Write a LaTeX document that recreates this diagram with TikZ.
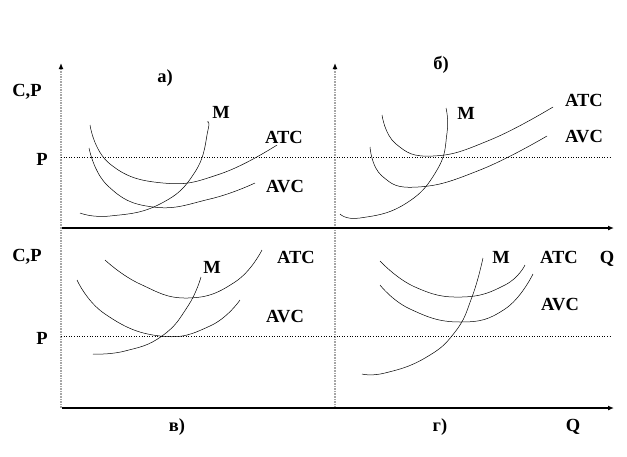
\documentclass[tikz,border=0pt]{standalone}
\usepackage{fontspec}
\setmainfont{Liberation Serif}
\usetikzlibrary{arrows.meta}

\begin{document}
\begin{tikzpicture}[x=1pt,y=-1pt,
lbl/.style={font=\fontsize{18.5}{20}\selectfont\bfseries,inner sep=0pt},
curve/.style={line width=0.5pt},
haxis/.style={line width=1.2pt,-{Latex[length=6pt,width=5pt]}},
vaxis/.style={line width=1.6pt,gray!70,densely dotted,-{Latex[length=6pt,width=5pt,color=black]}},
pline/.style={dotted,line width=0.6pt}]
\useasboundingbox (0,0) rectangle (627,456);

% axes
\coordinate (o1) at (61,408);
\coordinate (t1) at (61,63);
\coordinate (o2) at (335,408);
\coordinate (t2) at (335,63);
\coordinate (m0) at (62,228);
\coordinate (m1) at (614,228);
\coordinate (b0) at (62,408);
\coordinate (b1) at (614,408);
\coordinate (pa0) at (61,157);
\coordinate (pa1) at (612,157);
\coordinate (pb0) at (61,336);
\coordinate (pb1) at (612,336);

\draw[vaxis] (o1) -- (t1);
\draw[vaxis] (o2) -- (t2);
\draw[haxis] (m0) -- (m1);
\draw[haxis] (b0) -- (b1);
\draw[pline] (pa0) -- (pa1);
\draw[pline] (pb0) -- (pb1);

% a)
\draw[curve] plot[smooth,tension=0.8] coordinates {(90,125) (110,164) (163,183) (220,174) (277,145)};
\draw[curve] plot[smooth,tension=0.8] coordinates {(89,148) (108,186) (153,207) (210,199) (255,183)};
\draw[curve] plot[smooth,tension=0.8] coordinates {(80,213) (110,216) (160,204) (195,172) (208,130) (207,122)};

% b)
\draw[curve] plot[smooth,tension=0.8] coordinates {(382,115) (396,144) (433,156) (490,140) (553,107)};
\draw[curve] plot[smooth,tension=0.8] coordinates {(370,147) (382,176) (418,187) (480,170) (547,136)};
\draw[curve] plot[smooth,tension=0.8] coordinates {(340,214) (360,218) (405,204) (437,170) (447,133) (446,108)};

% c)
\draw[curve] plot[smooth,tension=0.8] coordinates {(105,260) (140,284) (188,298) (235,282) (262,250)};
\draw[curve] plot[smooth,tension=0.8] coordinates {(77,280) (105,314) (160,336) (210,326) (240,300)};
\draw[curve] plot[smooth,tension=0.8] coordinates {(93,354) (125,351) (162,336) (188,306) (201,277)};

% d)
\draw[curve] plot[smooth,tension=0.8] coordinates {(380,261) (415,287) (462,297) (505,285) (525,265)};
\draw[curve] plot[smooth,tension=0.8] coordinates {(380,285) (410,309) (460,322) (505,309) (533,274)};
\draw[curve] plot[smooth,tension=0.8] coordinates {(362,374) (385,373) (425,358) (455,332) (472,297) (483,258)};

% labels
\node[lbl] (cpa) at (27,92) {C,P};
\node[lbl] (pa) at (42,159) {P};
\node[lbl] (ta) at (165,78) {а)};
\node[lbl] (ma) at (221,112) {M};
\node[lbl] (atca) at (284,137) {ATC};
\node[lbl] (avca) at (285,187) {AVC};

\node[lbl] (tb) at (441,65) {б)};
\node[lbl] (mb) at (466,113) {M};
\node[lbl] (atcb) at (584,100) {ATC};
\node[lbl] (avcb) at (584,137) {AVC};

\node[lbl] (cpc) at (27,257) {C,P};
\node[lbl] (pc) at (42,338) {P};
\node[lbl] (mc) at (212,267) {M};
\node[lbl] (atcc) at (296,257) {ATC};
\node[lbl] (avcc) at (285,317) {AVC};
\node[lbl] (tc) at (177,427) {в)};

\node[lbl] (md) at (501,257) {M};
\node[lbl] (atcd) at (559,257) {ATC};
\node[lbl] (qd) at (607,259) {Q};
\node[lbl] (avcd) at (560,305) {AVC};
\node[lbl] (td) at (440,427) {г)};
\node[lbl] (qb) at (573,427) {Q};

\end{tikzpicture}
\end{document}
